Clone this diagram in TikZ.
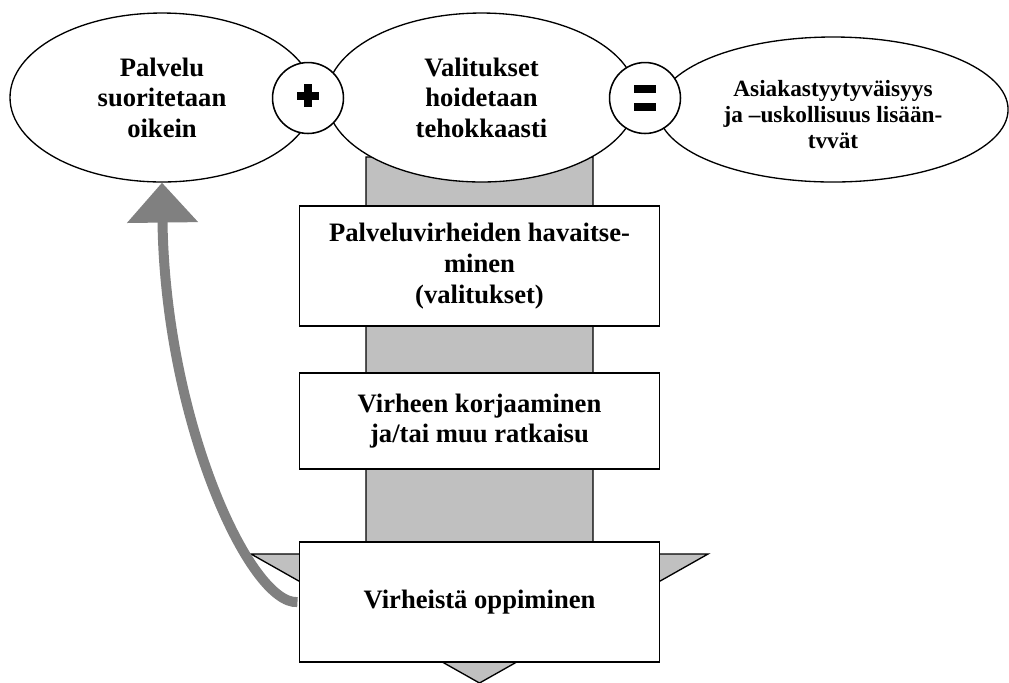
\documentclass[tikz,border=0pt]{standalone}
\usepackage{fontspec}
\setmainfont{Liberation Serif}
\usetikzlibrary{shapes.geometric,arrows.meta}
\definecolor{shaftgrey}{HTML}{C0C0C0}
\definecolor{loopgrey}{HTML}{808080}

\begin{document}
\begin{tikzpicture}[x=0.451pt,y=-0.451pt,
  every node/.style={font=\bfseries\fontsize{12}{13.8}\selectfont,align=center,inner sep=0pt},
  oval/.style={ellipse,draw,line width=0.6pt,fill=white},
  box/.style={rectangle,draw,line width=0.8pt,fill=white,minimum width=162.4pt},
  sign/.style={circle,draw,line width=0.7pt,fill=white,minimum size=32pt}]
\useasboundingbox (0,0) rectangle (1009,682);
%\draw[red] (0,0) rectangle (1009,682);

\coordinate (sl) at (366,157);
\coordinate (sr) at (593,157);
\coordinate (tip) at (479.5,683);

% big downward arrow
\draw[line width=0.6pt,fill=shaftgrey] (sl) -- (sr) -- (593,554) -- (708,554) -- (tip)
  -- (251,554) -- (366,554) -- cycle;

\node[box,minimum height=54.1pt] (havaitse) at (479.5,266) {Palveluvirheiden havaitse-\\minen\\(valitukset)};
\node[box,minimum height=43.3pt] (korjaus) at (479.5,421) {Virheen korjaaminen\\ja/tai muu ratkaisu};
\node[box,minimum height=54.1pt] (oppiminen) at (479.5,602) {Virheistä oppiminen};

\node[oval,minimum width=137.1pt,minimum height=76.2pt] (palvelu) at (162,97.5) {Palvelu\\suoritetaan\\oikein};
\node[oval,minimum width=139.8pt,minimum height=76.2pt] (valitukset) at (481.5,97.5) {Valitukset\\hoidetaan\\tehokkaasti};
\node[oval,minimum width=157.9pt,minimum height=65.4pt,font=\bfseries\fontsize{10.5}{11.6}\selectfont]
  (tyytyvaisyys) at (833,109.5) {\rule{0pt}{12pt}Asiakastyytyväisyys\\ja –uskollisuus lisään-\\tvvät};

\node[sign] (plus) at (308,98) {};
\node[sign] (equals) at (645,98) {};
\fill ([shift={(-11,-6)}]plus.center) rectangle +(22,8);
\fill ([shift={(-4,-14)}]plus.center) rectangle +(8,23);
\fill ([shift={(-11,-13)}]equals.center) rectangle +(22,8);
\fill ([shift={(-11,5)}]equals.center) rectangle +(22,8);

% learning loop back to the first oval
\draw[loopgrey,line width=4.5pt,shorten <=0.5pt,-{Triangle[length=18pt,width=31pt]}]
  (oppiminen.west) .. controls (250,605) and (165,420) .. (palvelu.south);
\end{tikzpicture}
\end{document}
